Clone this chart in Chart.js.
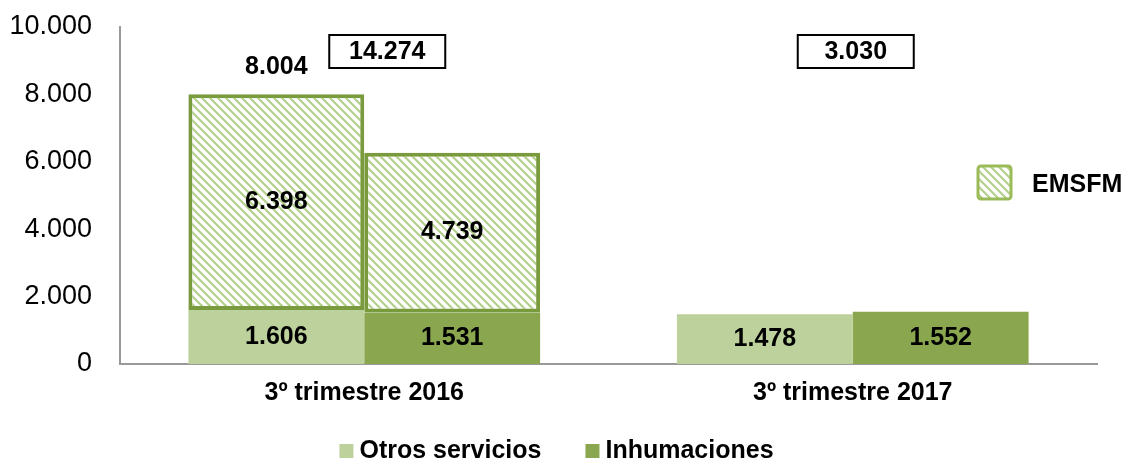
<!DOCTYPE html>
<html>
<head>
<meta charset="utf-8">
<script src="https://cdn.jsdelivr.net/npm/chart.js@4.4.0/dist/chart.umd.min.js"></script>
<style>
  html, body { margin: 0; background: #fff; }
</style>
</head>
<body>
<canvas id="chart" width="1129" height="461"></canvas>
<script>
const categories = ['3º trimestre 2016', '3º trimestre 2017'];
const otrosServicios = [1606, 1478];
const inhumaciones = [1531, 1552];
const emsfmOtros = [6398, null];
const emsfmInhumaciones = [4739, null];
const yTicks = [0, 2000, 4000, 6000, 8000, 10000];

const FONT = "'Liberation Sans', Arial, sans-serif";
const C_OTROS = '#bcd19b';
const C_INH = '#8aa750';
const C_BORDER = '#7a9a3e';

function fmt(n) {
	return String(n).replace(/\B(?=(\d{3})+(?!\d))/g, '.');
}

const canvas = document.getElementById('chart');
const ctx = canvas.getContext('2d');

// rayado diagonal para EMSFM
function hatch() {
	let c = document.createElement('canvas');
	c.width = 8; c.height = 8;
	let g = c.getContext('2d');
	g.fillStyle = '#fff';
	g.fillRect(0, 0, 8, 8);
	g.strokeStyle = '#b3cf8c';
	g.lineWidth = 2.2;
	g.beginPath();
	g.moveTo(0, 0); g.lineTo(8, 8);
	g.moveTo(-4, 4); g.lineTo(4, 12);
	g.moveTo(4, -4); g.lineTo(12, 4);
	g.stroke();
	return ctx.createPattern(c, 'repeat');
}
const pattern = hatch();

const labelsPlugin = {
	id: 'labels',
	afterDatasetsDraw(chart) {
		const c = chart.ctx;
		c.save();
		c.fillStyle = '#000';
		c.textAlign = 'center';
		c.textBaseline = 'middle';
		c.font = 'bold 25px ' + FONT;
		chart.data.datasets.forEach(function (ds, i) {
			chart.getDatasetMeta(i).data.forEach(function (bar, j) {
				let v = ds.data[j];
				if (v == null) return;
				c.fillText(fmt(v), bar.x, (bar.y + bar.base) / 2);
				// total encima de la primera barra con EMSFM
				if (i === 1) {
					c.fillText(fmt(otrosServicios[j] + v), bar.x, bar.y - 27);
				}
			});
		});

		// totales en recuadro
		const xs = chart.scales.x;
		const offs = [23, 3];
		categories.forEach(function (cat, j) {
			let tot = otrosServicios[j] + inhumaciones[j] + (emsfmOtros[j] || 0) + (emsfmInhumaciones[j] || 0);
			let cx = xs.getPixelForValue(j) + offs[j];
			c.lineWidth = 2;
			c.strokeStyle = '#000';
			c.strokeRect(cx - 58, 35, 116, 33);
			c.fillText(fmt(tot), cx, 52);
		});

		// leyenda EMSFM
		c.fillStyle = pattern;
		c.fillRect(978, 166, 33, 33);
		c.strokeStyle = '#9bbb59';
		c.lineWidth = 3;
		c.beginPath();
		c.roundRect(978, 166, 33, 33, 3);
		c.stroke();
		c.fillStyle = '#000';
		c.textAlign = 'left';
		c.fillText('EMSFM', 1032, 185);

		// leyenda inferior
		const items = [['Otros servicios', C_OTROS], ['Inhumaciones', C_INH]];
		let widths = items.map(function (it) { return 14 + 6 + c.measureText(it[0]).width; });
		let total = widths[0] + widths[1] + 44;
		let x = chart.width / 2 - 8 - total / 2;
		items.forEach(function (it, k) {
			c.fillStyle = it[1];
			c.fillRect(x, 444, 14, 14);
			c.fillStyle = '#000';
			c.fillText(it[0], x + 20, 451);
			x += widths[k] + 44;
		});
		c.restore();
	}
};

const emsfmStyle = {
	backgroundColor: pattern,
	borderColor: C_BORDER,
	borderWidth: 4,
	borderSkipped: false
};

new Chart(ctx, {
	type: 'bar',
	data: {
		labels: categories,
		datasets: [
			{ label: 'Otros servicios', data: otrosServicios, backgroundColor: C_OTROS, stack: 'a' },
			Object.assign({ label: 'EMSFM', data: emsfmOtros, stack: 'a' }, emsfmStyle),
			{ label: 'Inhumaciones', data: inhumaciones, backgroundColor: C_INH, stack: 'b' },
			Object.assign({ label: 'EMSFM', data: emsfmInhumaciones, stack: 'b' }, emsfmStyle)
		]
	},
	options: {
		responsive: false,
		animation: false,
		categoryPercentage: 0.72,
		barPercentage: 1,
		layout: { padding: { left: 10, right: 32, top: 27, bottom: 39 } },
		plugins: {
			legend: { display: false },
			tooltip: { enabled: false }
		},
		scales: {
			x: {
				stacked: true,
				grid: { display: false, drawTicks: false },
				border: { color: '#999', width: 2 },
				ticks: { color: '#000', padding: 14, font: { family: FONT, size: 25, weight: 'bold' } }
			},
			y: {
				stacked: true,
				min: 0,
				max: 10000,
				afterFit: function (scale) {
					scale.width = 110;
					scale.paddingTop = 0;
					scale.paddingBottom = 0;
				},
				afterBuildTicks: function (scale) {
					scale.ticks = yTicks.map(function (v) { return { value: v }; });
				},
				grid: { display: false, drawTicks: false },
				border: { color: '#999', width: 2 },
				ticks: {
					color: '#000',
					padding: 28,
					font: { family: FONT, size: 27 },
					callback: function (v) { return fmt(v); }
				}
			}
		}
	},
	plugins: [labelsPlugin]
});
</script>
</body>
</html>
